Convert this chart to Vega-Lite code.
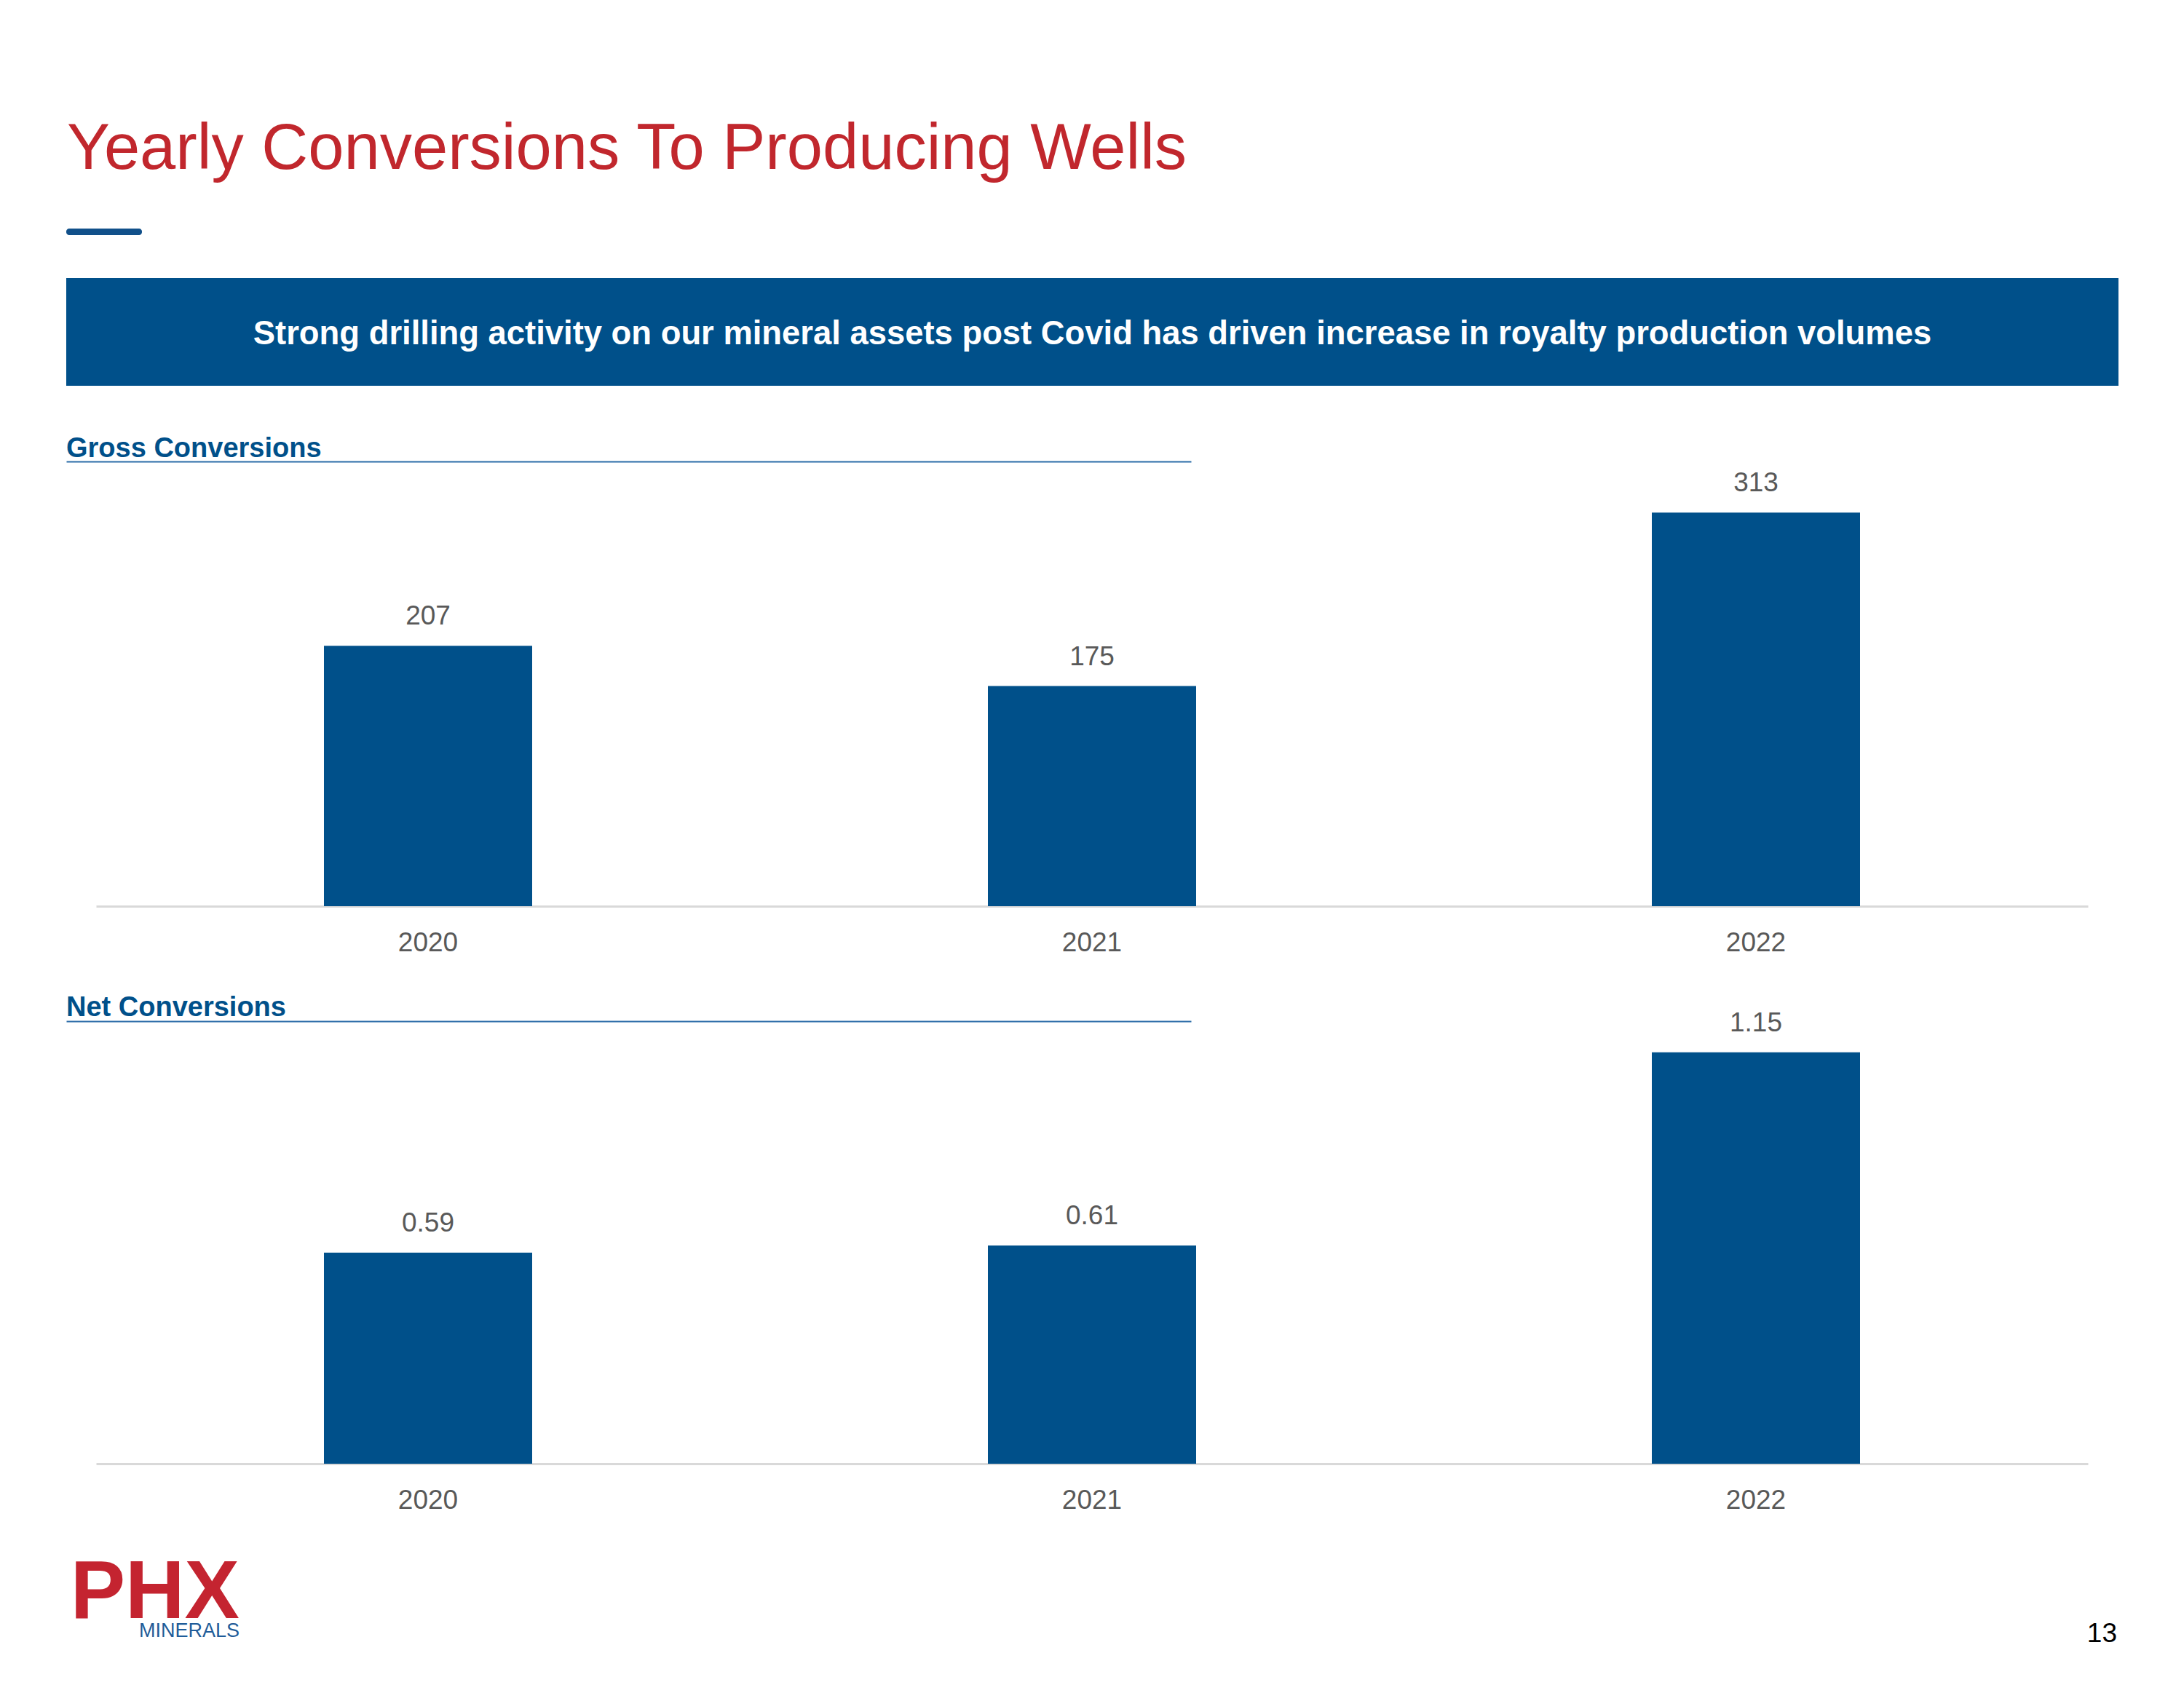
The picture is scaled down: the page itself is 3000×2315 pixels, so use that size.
{
  "$schema": "https://vega.github.io/schema/vega-lite/v6.json",
  "background": "white",
  "padding": {"left": 91, "top": 150, "right": 0, "bottom": 0},
  "autosize": {"type": "pad"},
  "bounds": "flush",
  "spacing": 0,
  "config": {
    "view": {"stroke": null},
    "font": "Liberation Sans",
    "concat": {"spacing": 0}
  },
  "vconcat": [
    {
      "width": 2, "height": 164,
      "data": {"values": [{"t": "Yearly Conversions To Producing Wells"}]},
      "mark": {"type": "text", "align": "left", "baseline": "alphabetic", "font": "Liberation Sans", "fontSize": 88.5, "color": "#C1272D"},
      "encoding": {"text": {"field": "t", "type": "nominal"}}
    },
    {
      "width": 104, "height": 9,
      "view": {"fill": "#11508A", "cornerRadius": 4, "stroke": null},
      "data": {"values": [{"t": ""}]},
      "mark": {"type": "text"},
      "encoding": {"text": {"field": "t", "type": "nominal"}}
    },
    {
      "width": 2, "height": 59,
      "data": {"values": [{"t": ""}]},
      "mark": {"type": "text"},
      "encoding": {"text": {"field": "t", "type": "nominal"}}
    },
    {
      "width": 2819, "height": 148,
      "view": {"fill": "#00508A", "stroke": null},
      "data": {"values": [{"t": "Strong drilling activity on our mineral assets post Covid has driven increase in royalty production volumes"}]},
      "mark": {"type": "text", "align": "center", "baseline": "alphabetic", "dy": 17, "fontSize": 45.4, "fontWeight": "bold", "color": "#FFFFFF", "font": "Liberation Sans"},
      "encoding": {"text": {"field": "t", "type": "nominal"}}
    },
    {
      "width": 1545, "height": 104,
      "data": {"values": [{"t": "Gross Conversions"}]},
      "mark": {"type": "text", "align": "left", "baseline": "alphabetic", "dy": 45.7, "fontSize": 38, "fontWeight": "bold", "color": "#00508A", "font": "Liberation Sans"},
      "encoding": {
        "text": {"field": "t", "type": "nominal"},
        "x": {"datum": 0, "type": "quantitative", "scale": {"domain": [0, 1], "nice": false},
              "axis": {"domainColor": "#2B6CA8", "domainWidth": 2, "labels": false, "ticks": false, "tickSize": 0, "grid": false, "title": null}}
      }
    },
    {
      "width": 2819, "height": 611,
      "data": {"values": [
        {"year": "2020", "value": 207},
        {"year": "2021", "value": 175},
        {"year": "2022", "value": 313}
      ]},
      "encoding": {
        "x": {"field": "year", "type": "ordinal",
              "scale": {"range": [41, 2777], "paddingInner": 0.6864, "paddingOuter": 0.3432},
              "axis": {"title": null, "labelAngle": 0, "domainColor": "#D9D9D9", "domainWidth": 3, "ticks": false, "tickSize": 0, "labelPadding": 32, "labelFontSize": 37, "labelColor": "#595959", "labelFont": "Liberation Sans", "grid": false}},
        "y": {"field": "value", "type": "quantitative", "scale": {"domain": [0, 353.6], "nice": false, "zero": true}, "axis": null}
      },
      "layer": [
        {"mark": {"type": "bar", "color": "#00508A"}},
        {"mark": {"type": "text", "baseline": "alphabetic", "dy": -29, "fontSize": 37, "color": "#595959", "font": "Liberation Sans"},
         "encoding": {"text": {"field": "value", "type": "quantitative", "format": "d"}}}
      ]
    },
    {
      "width": 1545, "height": 158,
      "data": {"values": [{"t": "Net Conversions"}]},
      "mark": {"type": "text", "align": "left", "baseline": "alphabetic", "dy": 71.5, "fontSize": 38, "fontWeight": "bold", "color": "#00508A", "font": "Liberation Sans"},
      "encoding": {
        "text": {"field": "t", "type": "nominal"},
        "x": {"datum": 0, "type": "quantitative", "scale": {"domain": [0, 1], "nice": false},
              "axis": {"domainColor": "#2B6CA8", "domainWidth": 2, "labels": false, "ticks": false, "tickSize": 0, "grid": false, "title": null}}
      }
    },
    {
      "width": 2819, "height": 608,
      "data": {"values": [
        {"year": "2020", "value": 0.59},
        {"year": "2021", "value": 0.61},
        {"year": "2022", "value": 1.15}
      ]},
      "encoding": {
        "x": {"field": "year", "type": "ordinal",
              "scale": {"range": [41, 2777], "paddingInner": 0.6864, "paddingOuter": 0.3432},
              "axis": {"title": null, "labelAngle": 0, "domainColor": "#D9D9D9", "domainWidth": 3, "ticks": false, "tickSize": 0, "labelPadding": 32, "labelFontSize": 37, "labelColor": "#595959", "labelFont": "Liberation Sans", "grid": false}},
        "y": {"field": "value", "type": "quantitative", "scale": {"domain": [0, 1.2368], "nice": false, "zero": true}, "axis": null}
      },
      "layer": [
        {"mark": {"type": "bar", "color": "#00508A"}},
        {"mark": {"type": "text", "baseline": "alphabetic", "dy": -29, "fontSize": 37, "color": "#595959", "font": "Liberation Sans"},
         "encoding": {"text": {"field": "value", "type": "quantitative", "format": ".2f"}}}
      ]
    },
    {
      "width": 2, "height": 121,
      "data": {"values": [{"t": ""}]},
      "mark": {"type": "text"},
      "encoding": {"text": {"field": "t", "type": "nominal"}}
    },
    {
      "bounds": "flush",
      "spacing": 0,
      "hconcat": [
        {
          "width": 238, "height": 1,
          "title": {"text": "PHX", "subtitle": "MINERALS", "orient": "bottom", "anchor": "end", "offset": -4,
                    "font": "Liberation Sans", "fontSize": 113, "fontWeight": "bold", "color": "#C42430",
                    "subtitleFont": "Liberation Sans", "subtitleFontSize": 27, "subtitleFontWeight": "normal", "subtitleColor": "#1F5C99", "subtitlePadding": -19},
          "data": {"values": [{"t": ""}]},
          "mark": {"type": "text"},
          "encoding": {"text": {"field": "t", "type": "nominal"}}
        },
        {
          "width": 2579, "height": 1,
          "title": {"text": "13", "orient": "bottom", "anchor": "end", "offset": 89,
                    "font": "Liberation Sans", "fontSize": 37, "fontWeight": "normal", "color": "#000000"},
          "data": {"values": [{"t": ""}]},
          "mark": {"type": "text"},
          "encoding": {"text": {"field": "t", "type": "nominal"}}
        }
      ]
    }
  ]
}
